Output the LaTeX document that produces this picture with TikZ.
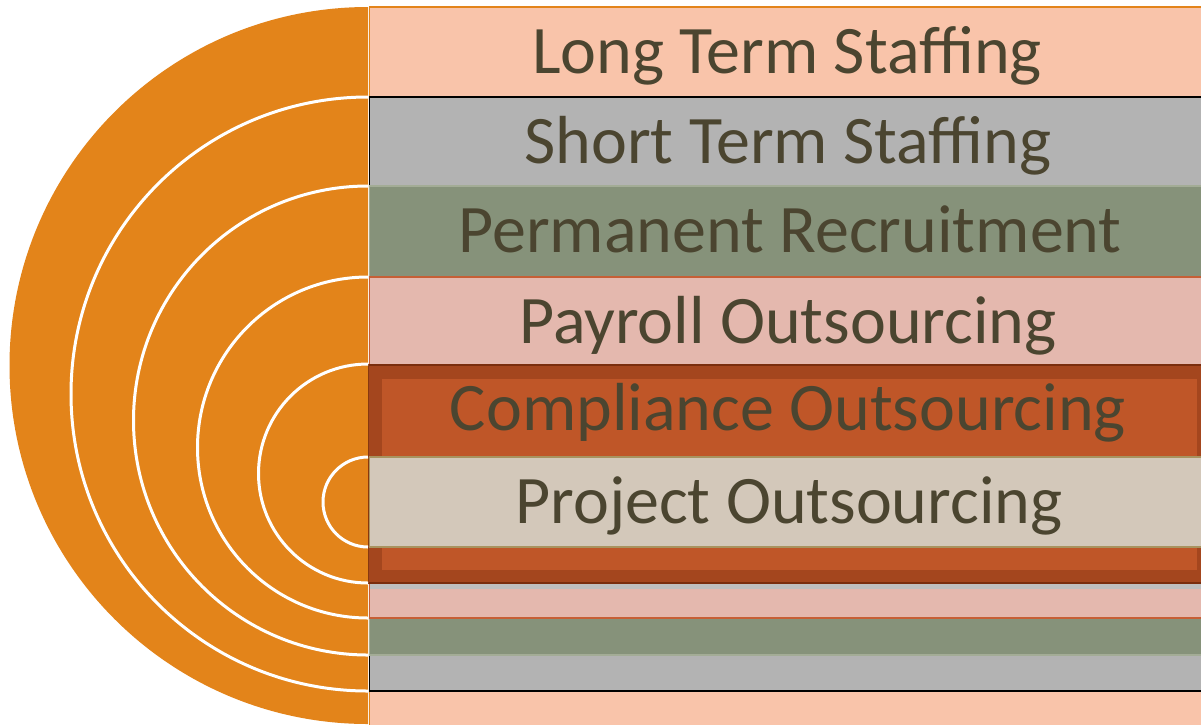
\documentclass[tikz,border=0pt]{standalone}
\usepackage{fontspec}
\setmainfont{Carlito}
\definecolor{discorange}{HTML}{E3841A}
\definecolor{salmon}{HTML}{F9C4AA}
\definecolor{greybox}{HTML}{B3B3B3}
\definecolor{greenbox}{HTML}{86927A}
\definecolor{greenedge}{HTML}{A3AC96}
\definecolor{pinkbox}{HTML}{E4B8AE}
\definecolor{pinkedge}{HTML}{C65F36}
\definecolor{rustbox}{HTML}{BF5628}
\definecolor{rustband}{HTML}{A4461E}
\definecolor{rustedge}{HTML}{7A2E0E}
\definecolor{tanbox}{HTML}{D3C8BA}
\definecolor{tanedge}{HTML}{A8935F}
\definecolor{txtbrown}{HTML}{4B4530}
\tikzset{
  lbl/.style={text=txtbrown, font=\fontsize{68}{78}\selectfont, inner sep=0pt, anchor=base},
  ring/.style={draw=white, line width=3pt}
}
\begin{document}
\begin{tikzpicture}[x=1pt,y=-1pt]
            \useasboundingbox (0,0) rectangle (1201,724);
            \fill[white] (0,0) rectangle (1201,724);
            \filldraw[fill=salmon, draw=discorange, line width=1.5pt] (369.5,7) rectangle (1205,730);
            \filldraw[fill=greybox, draw=black, line width=1.5pt] (369.5,97) rectangle (1205,691);
            \fill[black!30] (369.5,655) rectangle (1205,660);
            \filldraw[fill=greenbox, draw=greenedge, line width=1.5pt] (369.5,186) rectangle (1205,655);
            \filldraw[fill=pinkbox, draw=pinkedge, line width=1.5pt] (369.5,277) rectangle (1205,618);
            \fill[black!25] (369.5,583) rectangle (1205,589);
            \filldraw[fill=rustband, draw=rustedge, line width=2.5pt] (368,365) rectangle (1205,583);
            \fill[rustbox] (382,379) rectangle (1197,570);
            \filldraw[fill=tanbox, draw=tanedge, line width=1.5pt] (369.5,457) rectangle (1205,547);
            \fill[discorange] (368,7) arc[start angle=270, end angle=90, radius=358.5] -- cycle;
            \draw[ring] (368,97) arc[start angle=270, end angle=90, radius=297];
            \draw[ring] (368,186) arc[start angle=270, end angle=90, radius=234.5];
            \draw[ring] (368,277) arc[start angle=270, end angle=90, radius=170.5];
            \draw[ring] (368,364) arc[start angle=270, end angle=90, radius=109.5];
            \draw[ring] (368,457) arc[start angle=270, end angle=90, radius=45];
            \node[lbl] (t0) at (787,73) {Long Term Staffing};
            \node[lbl] (t1) at (788,163) {Short Term Staffing};
            \node[lbl] (t2) at (790,252) {Permanent Recruitment};
            \node[lbl] (t3) at (788,343) {Payroll Outsourcing};
            \node[lbl] (t4) at (788,430) {Compliance Outsourcing};
            \node[lbl] (t5) at (789,523) {Project Outsourcing};
         \end{tikzpicture}
\end{document}
